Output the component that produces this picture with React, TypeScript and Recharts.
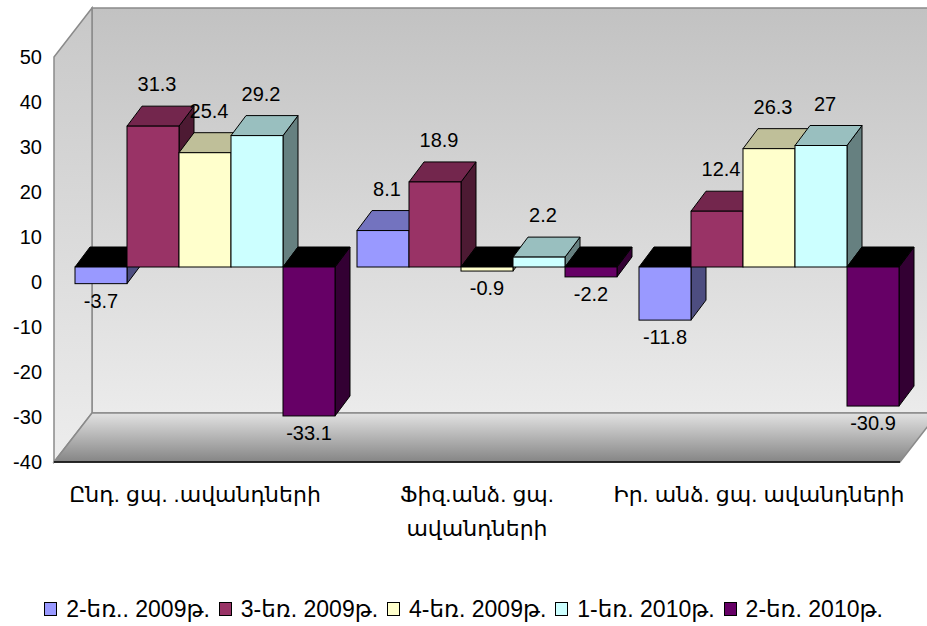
import { BarChart, Bar, XAxis, YAxis, Legend, LabelList } from "recharts";

// categories (explicit line break where the original label wraps)
const categories = [
  "Ընդ. ցպ. .ավանդների",
  "Ֆիզ.անձ. ցպ.\nավանդների",
  "Իր. անձ. ցպ. ավանդների",
];

const seriesNames = [
  "2-եռ.. 2009թ.",
  "3-եռ. 2009թ.",
  "4-եռ. 2009թ.",
  "1-եռ. 2010թ.",
  "2-եռ. 2010թ.",
];

const q2_2009 = [-3.7, 8.1, -11.8];
const q3_2009 = [31.3, 18.9, 12.4];
const q4_2009 = [25.4, -0.9, 26.3];
const q1_2010 = [29.2, 2.2, 27];
const q2_2010 = [-33.1, -2.2, -30.9];

const yTicks = [-40, -30, -20, -10, 0, 10, 20, 30, 40, 50];

const colors = ["#9999FF", "#993366", "#FFFFCC", "#CCFFFF", "#660066"];
const keys = ["s0", "s1", "s2", "s3", "s4"];
const allSeries = [q2_2009, q3_2009, q4_2009, q1_2010, q2_2010];

const data = categories.map((name, i) => {
  const row: any = { name };
  keys.forEach((k, j) => (row[k] = allSeries[j][i]));
  return row;
});

const FONT = "'Liberation Sans', 'DejaVu Sans', Arial, sans-serif";

// bars sit a bit back inside the 3d box
const SHIFT_X = 11;
const SHIFT_Y = -15;
const DEPTH_X = 15;
const DEPTH_Y = -20;

const shade = (hex: string, f: number) => {
  const n = parseInt(hex.slice(1), 16);
  const r = Math.round(((n >> 16) & 255) * f);
  const g = Math.round(((n >> 8) & 255) * f);
  const b = Math.round((n & 255) * f);
  return `rgb(${r},${g},${b})`;
};

const renderBar = (p: any, key: string, color: string) => {
  const { x, y, width, height, payload } = p;
  if (x == null || y == null) return <g />;
  const neg = payload[key] < 0;
  const top = Math.min(y, y + height) + SHIFT_Y;
  const bottom = Math.max(y, y + height) + SHIFT_Y;
  const left = x + SHIFT_X;
  const right = x + width + SHIFT_X;
  const topFace = `${left},${top} ${right},${top} ${right + DEPTH_X},${top + DEPTH_Y} ${left + DEPTH_X},${top + DEPTH_Y}`;
  const sideFace = `${right},${top} ${right + DEPTH_X},${top + DEPTH_Y} ${right + DEPTH_X},${bottom + DEPTH_Y} ${right},${bottom}`;
  return (
    <g>
      <polygon points={sideFace} fill={shade(color, 0.5)} stroke="#000" strokeWidth={1} strokeLinejoin="round" />
      <polygon points={topFace} fill={neg ? "#000" : shade(color, 0.75)} stroke="#000" strokeWidth={1} strokeLinejoin="round" />
      <rect x={left} y={top} width={right - left} height={bottom - top} fill={color} stroke="#000" strokeWidth={1} />
    </g>
  );
};

const renderLabel = (p: any) => {
  const { x, y, width, height, value } = p;
  if (x == null) return null;
  const top = Math.min(y, y + height) + SHIFT_Y;
  const bottom = Math.max(y, y + height) + SHIFT_Y;
  const cx = x + SHIFT_X + width / 2;
  const neg = value < 0;
  return (
    <text
      x={neg ? cx : cx + 4}
      y={neg ? bottom + 17 : top + DEPTH_Y - 22}
      textAnchor="middle"
      dominantBaseline="central"
      fontSize={20}
      fontFamily={FONT}
      fill="#000"
    >
      {value}
    </text>
  );
};

const CategoryTick = (p: any) => {
  const { x, y, payload } = p;
  const lines = String(payload.value).split("\n");
  return (
    <g>
      {lines.map((l, i) => (
        <text
          key={i}
          x={x}
          y={y + 32 + i * 34}
          textAnchor="middle"
          dominantBaseline="central"
          fontSize={22}
          fontFamily={FONT}
          fill="#000"
        >
          {l}
        </text>
      ))}
    </g>
  );
};

const LegendBox = () => (
  <div
    style={{
      display: "flex",
      justifyContent: "center",
      alignItems: "center",
      height: 26,
      fontFamily: FONT,
      fontSize: 23,
      lineHeight: "26px",
      color: "#000",
    }}
  >
    {seriesNames.map((name, i) => (
      <span key={i} style={{ display: "flex", alignItems: "center", marginRight: i < 4 ? 9 : 0 }}>
        <span
          style={{
            display: "inline-block",
            width: 11,
            height: 12,
            background: colors[i],
            border: "1px solid #000",
            marginRight: 9,
          }}
        />
        {name}
      </span>
    ))}
  </div>
);

// 3d box: back wall, side wall and floor
const Walls = () => (
  <svg width={927} height={626} style={{ position: "absolute", left: 0, top: 0 }}>
    <defs>
      <linearGradient id="back" x1="0" y1="0" x2="0" y2="1">
        <stop offset="0%" stopColor="#c2c2c2" />
        <stop offset="100%" stopColor="#ebebeb" />
      </linearGradient>
      <linearGradient id="side" x1="0" y1="0" x2="0" y2="1">
        <stop offset="0%" stopColor="#c8c8c8" />
        <stop offset="100%" stopColor="#ededed" />
      </linearGradient>
      <linearGradient id="floor" x1="0" y1="0" x2="0" y2="1">
        <stop offset="0%" stopColor="#e2e2e2" />
        <stop offset="100%" stopColor="#858585" />
      </linearGradient>
    </defs>
    <polygon points="92,8 940,8 940,413 92,413" fill="url(#back)" stroke="#8a8a8a" strokeWidth={1.5} />
    <polygon points="54,57 92,8 92,413 54,462" fill="url(#side)" stroke="#8a8a8a" strokeWidth={1.5} />
    <polygon points="92,413 938,413 900,462 54,462" fill="url(#floor)" stroke="#8a8a8a" strokeWidth={1.5} />
    <line x1={54} y1={462} x2={900} y2={462} stroke="#000" strokeWidth={1.5} />
  </svg>
);

export default function App() {
  return (
    <div style={{ position: "absolute", left: 0, top: 0, width: 927, height: 626, background: "#fff", fontFamily: FONT }}>
      <Walls />
      <div style={{ position: "absolute", left: 0, top: 0 }}>
        <BarChart
          width={927}
          height={626}
          data={data}
          margin={{ top: 57, right: 27, bottom: 4, left: 0 }}
          barCategoryGap={10}
          barGap={0}
        >
          <XAxis
            dataKey="name"
            axisLine={false}
            tickLine={false}
            tickSize={0}
            tickMargin={0}
            height={134}
            interval={0}
            tick={<CategoryTick />}
          />
          <YAxis
            domain={[-40, 50]}
            ticks={yTicks}
            width={54}
            axisLine={false}
            tickLine={false}
            tickSize={0}
            tickMargin={12}
            tick={{ fontSize: 20, fontFamily: FONT, fill: "#000" }}
          />
          <Legend
            verticalAlign="bottom"
            height={26}
            wrapperStyle={{ left: 0, width: 927 }}
            content={<LegendBox />}
          />
          {keys.map((k, j) => (
            <Bar
              key={k}
              dataKey={k}
              name={seriesNames[j]}
              fill={colors[j]}
              isAnimationActive={false}
              shape={(p: any) => renderBar(p, k, colors[j])}
            >
              <LabelList dataKey={k} content={renderLabel} />
            </Bar>
          ))}
        </BarChart>
      </div>
    </div>
  );
}
